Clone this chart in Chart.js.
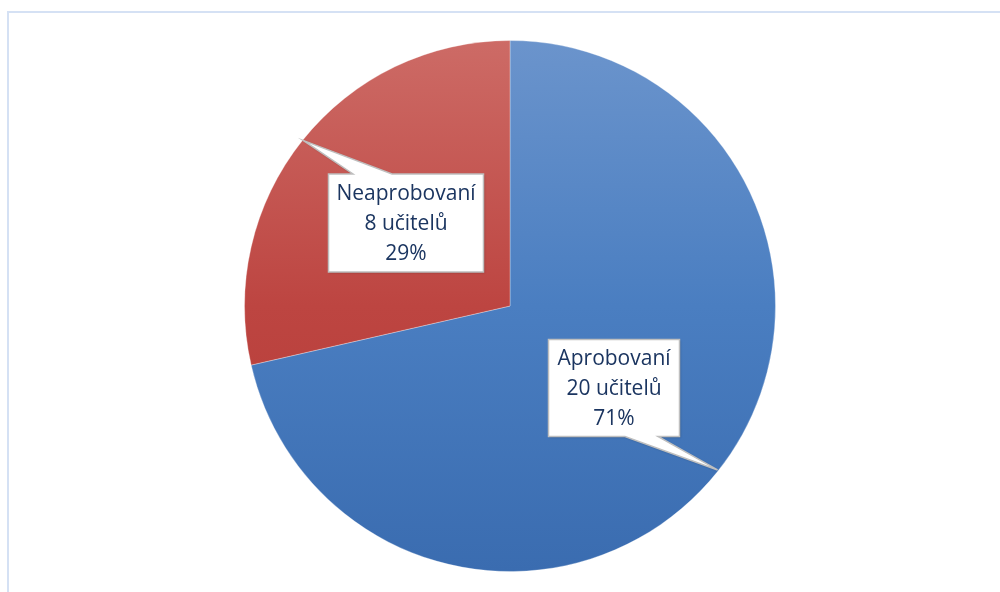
<!DOCTYPE html>
<html>
<head>
<meta charset="utf-8">
<script src="https://cdn.jsdelivr.net/npm/chart.js@4.4.0/dist/chart.umd.min.js"></script>
<style>
  html, body { margin: 0; padding: 0; background: #fff; }
  #wrap { position: relative; width: 1000px; height: 592px; overflow: hidden; }
  #frame { position: absolute; left: 7px; top: 11px; width: 1000px; height: 600px; border: 2px solid #d5e1f4; box-sizing: border-box; }
  canvas { position: absolute; left: 0; top: 0; }
</style>
</head>
<body>
<div id="wrap">
  <div id="frame"></div>
  <canvas id="pie-chart" width="1000" height="592"></canvas>
</div>
<script>
let categories = ['Aprobovaní', 'Neaprobovaní'];
let teacherCounts = [20, 8];
let unitLabel = 'učitelů';

// callout boxes: box centre, size, pointer base on edge, tip angle on the rim (deg)
let callouts = [
  { cx: 614, cy: 388, w: 131, h: 97, side: 'bottom', base: [625, 658], tipAngle: 38.3 },
  { cx: 406, cy: 223, w: 155, h: 98, side: 'top', base: [353, 392], tipAngle: -141.3 },
];

function gradient(ctx, area, top, mid, bottom) {
  let g = ctx.createLinearGradient(0, area.top, 0, area.bottom);
  g.addColorStop(0, top);
  g.addColorStop(0.5, mid);
  g.addColorStop(1, bottom);
  return g;
}

let calloutPlugin = {
  id: 'callouts',
  afterDatasetsDraw(chart) {
    let ctx = chart.ctx;
    let meta = chart.getDatasetMeta(0);
    let total = teacherCounts.reduce((a, b) => a + b, 0);
    meta.data.forEach((arc, i) => {
      let c = callouts[i];
      let r = arc.outerRadius - 1;
      let a = c.tipAngle * Math.PI / 180;
      let tx = arc.x + Math.cos(a) * r;
      let ty = arc.y + Math.sin(a) * r;
      let x0 = c.cx - c.w / 2, x1 = c.cx + c.w / 2;
      let y0 = c.cy - c.h / 2, y1 = c.cy + c.h / 2;

      ctx.save();
      ctx.beginPath();
      ctx.moveTo(x0, y0);
      if (c.side == 'top') {
        ctx.lineTo(c.base[0], y0);
        ctx.lineTo(tx, ty);
        ctx.lineTo(c.base[1], y0);
      }
      ctx.lineTo(x1, y0);
      ctx.lineTo(x1, y1);
      if (c.side == 'bottom') {
        ctx.lineTo(c.base[1], y1);
        ctx.lineTo(tx, ty);
        ctx.lineTo(c.base[0], y1);
      }
      ctx.lineTo(x0, y1);
      ctx.closePath();
      ctx.shadowColor = 'rgba(0,0,0,0.25)';
      ctx.shadowBlur = 2;
      ctx.shadowOffsetX = 1;
      ctx.shadowOffsetY = 1;
      ctx.fillStyle = '#ffffff';
      ctx.fill();
      ctx.shadowColor = 'transparent';
      ctx.lineWidth = 1.5;
      ctx.strokeStyle = '#bfbfbf';
      ctx.stroke();

      let pct = Math.round(teacherCounts[i] / total * 100) + '%';
      let lines = [categories[i], teacherCounts[i] + ' ' + unitLabel, pct];
      ctx.fillStyle = '#1b3560';
      ctx.font = '21px "Open Sans"';
      ctx.textAlign = 'center';
      ctx.textBaseline = 'middle';
      lines.forEach((t, k) => {
        ctx.fillText(t, c.cx, c.cy + (k - 1) * 30 + 1);
      });
      ctx.restore();
    });
  }
};

let ctx = document.getElementById('pie-chart').getContext('2d');

new Chart(ctx, {
  type: 'pie',
  data: {
    labels: categories,
    datasets: [
      {
        data: teacherCounts,
        backgroundColor: (c) => {
          let area = c.chart.chartArea;
          if (!area) return '#4a7ec0';
          return c.dataIndex == 0
            ? gradient(c.chart.ctx, area, '#6b94cc', '#4a7ec1', '#3a6cb0')
            : gradient(c.chart.ctx, area, '#cd6b66', '#bd4541', '#b43935');
        },
        borderColor: 'rgba(255,255,255,0.3)',
        borderWidth: 1,
      },
    ],
  },
  options: {
    responsive: false,
    animation: false,
    layout: { padding: { top: 40, bottom: 20, left: 20, right: 0 } },
    plugins: {
      legend: { display: false },
      tooltip: { enabled: false },
    },
  },
  plugins: [calloutPlugin],
});
</script>
</body>
</html>
